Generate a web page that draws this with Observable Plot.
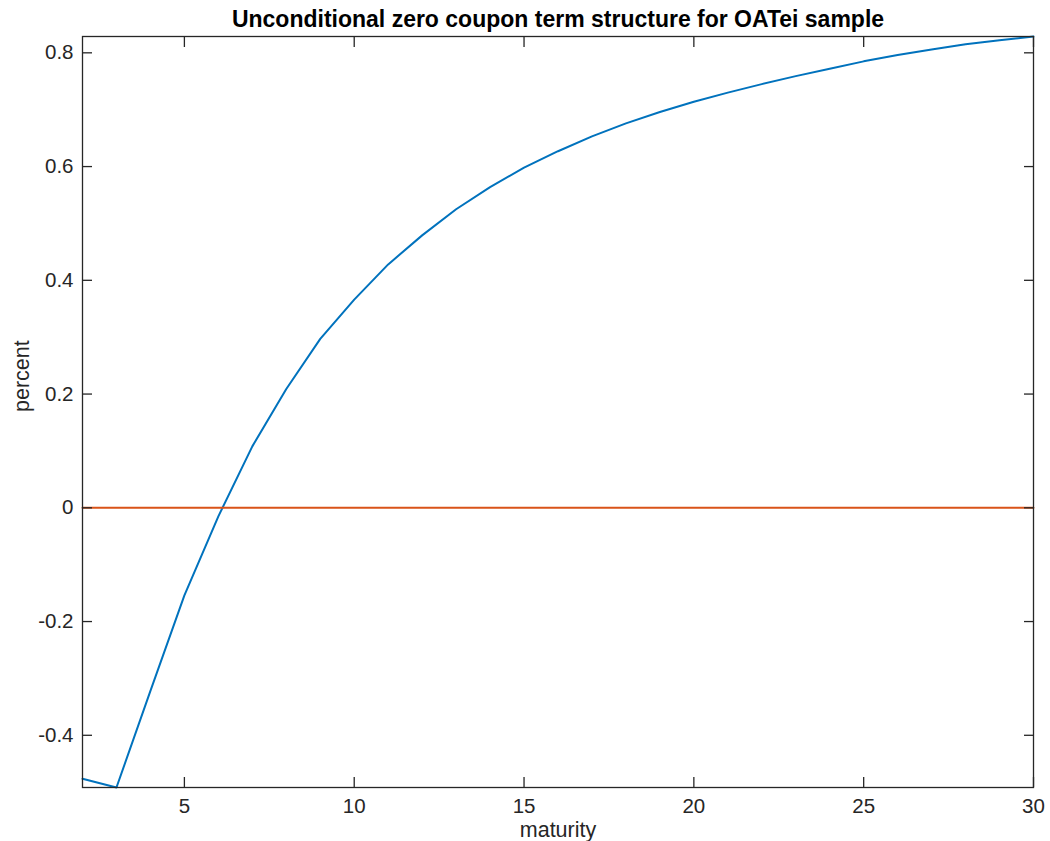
<!DOCTYPE html>
<html>
<head>
<meta charset="utf-8">
<script src="https://cdn.jsdelivr.net/npm/d3@7"></script>
<script src="https://cdn.jsdelivr.net/npm/@observablehq/plot@0.6"></script>
<style>
  html, body { margin: 0; padding: 0; background: #fff; }
  #chart svg { display: block; }
</style>
</head>
<body>
<div id="chart"></div>
<script>
const titleText = "Unconditional zero coupon term structure for OATei sample";
const xLabel = "maturity";
const yLabel = "percent";
const maturity = [2,3,4,5,6,7,8,9,10,11,12,13,14,15,16,17,18,19,20,21,22,23,24,25,26,27,28,29,30];
const zeroCoupon = [-0.4765,-0.4918,-0.322,-0.154,-0.015,0.108,0.209,0.297,0.366,0.428,0.479,0.525,0.564,0.598,0.627,0.653,0.676,0.696,0.714,0.730,0.745,0.759,0.772,0.785,0.796,0.806,0.815,0.822,0.8287];
const zeroLine = maturity.map(() => 0);
const xTicks = [5,10,15,20,25,30];
const yTicks = [-0.4,-0.2,0,0.2,0.4,0.6,0.8];

const axisColor = "#262626";
const fmt = d => String(d);

const plot = Plot.plot({
  width: 1050,
  height: 841,
  marginLeft: 82,
  marginRight: 17,
  marginTop: 36,
  marginBottom: 54,
  style: {fontFamily: "'Liberation Sans', Arial, Helvetica, sans-serif", fontSize: "20.5px", color: axisColor, background: "#fff"},
  x: {domain: [maturity[0], maturity[maturity.length - 1]]},
  y: {domain: d3.extent(zeroCoupon)},
  marks: [
    Plot.line(maturity, {x: (d) => d, y: (d, i) => zeroCoupon[i], stroke: "#0072BD", strokeWidth: 2}),
    Plot.line(maturity, {x: (d) => d, y: (d, i) => zeroLine[i], stroke: "#D95319", strokeWidth: 2}),
    Plot.frame({stroke: axisColor, strokeWidth: 1.3}),
    Plot.axisX(xTicks, {anchor: "bottom", tickSize: -10, tickPadding: 21, tickFormat: fmt, label: null, stroke: axisColor, strokeWidth: 1.3}),
    Plot.axisX(xTicks, {anchor: "top", tickSize: -10, fill: "none", label: null, stroke: axisColor, strokeWidth: 1.3}),
    Plot.axisY(yTicks, {anchor: "left", tickSize: -10, tickPadding: 19, tickFormat: fmt, label: null, stroke: axisColor, strokeWidth: 1.3}),
    Plot.axisY(yTicks, {anchor: "right", tickSize: -10, fill: "none", label: null, stroke: axisColor, strokeWidth: 1.3}),
    Plot.text([xLabel], {frameAnchor: "bottom", text: d => d, dy: 49, fill: axisColor, fontSize: 21.5}),
    Plot.text([yLabel], {frameAnchor: "left", text: d => d, rotate: -90, dx: -60, fill: axisColor, fontSize: 21.5}),
    Plot.text([titleText], {frameAnchor: "top", text: d => d, dy: -25.5, fill: "#000", fontSize: 23, fontWeight: "bold"})
  ]
});
document.getElementById("chart").appendChild(plot);
</script>
</body>
</html>
